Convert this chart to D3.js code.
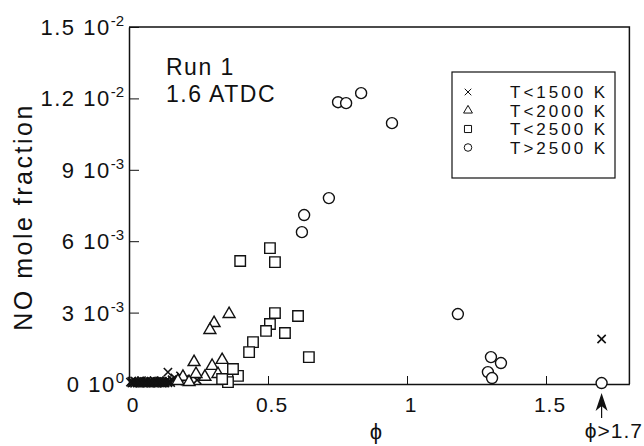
<!DOCTYPE html>
<html>
<head>
<meta charset="utf-8">
<script src="https://cdn.jsdelivr.net/npm/d3@7"></script>
<style>
  body { margin: 0; background: #fff; }
  text { font-family: "Liberation Sans", Arial, Helvetica, sans-serif; fill: #111; }
</style>
</head>
<body>
<div id="chart"></div>
<script>
// phi (equivalence ratio) and NO mole fraction, one pair of arrays per temperature class
var crossPhi = [0.005, 0.01, 0.015, 0.02, 0.025, 0.03, 0.035, 0.04, 0.045, 0.05, 0.055, 0.06, 0.065, 0.07,
    0.075, 0.08, 0.085, 0.09, 0.095, 0.10, 0.105, 0.11, 0.115, 0.12, 0.125, 0.13, 0.135, 0.14, 0.145,
    0.01, 0.02, 0.03, 0.04, 0.05, 0.06, 0.07, 0.08, 0.09, 0.10, 0.11, 0.12, 0.13, 0.14, 0.15,
    0.14, 0.155, 0.165, 0.175, 0.185, 0.2, 0.215, 0.245, 1.70];
var crossNO = [0.00008, 0.00012, 0.00006, 0.00013, 0.00009, 0.00005, 0.00012, 0.00008, 0.00014, 0.00006, 0.00011,
    0.00009, 0.00013, 0.00005, 0.00010, 0.00012, 0.00007, 0.00014, 0.00009, 0.00011, 0.00006, 0.00013, 0.00008,
    0.00012, 0.00005, 0.00010, 0.00014, 0.00008, 0.00011,
    0.00004, 0.00003, 0.00004, 0.00003, 0.00004, 0.00003, 0.00004, 0.00003, 0.00004, 0.00003, 0.00004, 0.00003,
    0.00004, 0.00005, 0.00006,
    0.0005, 0.00018, 0.00025, 0.00012, 0.00034, 0.00020, 0.00015, 0.00017, 0.00189];

var triPhi = [0.36, 0.306, 0.291, 0.234, 0.299, 0.335, 0.194, 0.273, 0.176, 0.241, 0.32, 0.216];
var triNO = [0.00294, 0.00256, 0.00227, 0.00092, 0.00076, 0.00101, 0.0003, 0.0003, 0.00013, 0.00042, 0.00042, 0.00008];

var sqPhi = [0.40, 0.507, 0.525, 0.525, 0.608, 0.507, 0.493, 0.561, 0.446, 0.432, 0.647, 0.392, 0.356, 0.374, 0.335];
var sqNO = [0.00517, 0.00571, 0.00512, 0.00298, 0.00286, 0.00252, 0.00223, 0.00214, 0.00176, 0.00134, 0.00113,
    0.00034, 0.00008, 0.00063, 0.00021];

var circPhi = [0.752, 0.781, 0.835, 0.946, 0.719, 0.63, 0.622, 1.183, 1.302, 1.338, 1.291, 1.306, 1.70];
var circNO = [0.01184, 0.0118, 0.01222, 0.01096, 0.00781, 0.0071, 0.00638, 0.00294, 0.00113, 0.00088, 0.0005, 0.00025, 0.00004];

var legendLabels = ["T<1500 K", "T<2000 K", "T<2500 K", "T>2500 K"];

var xTickVals = [0, 0.5, 1, 1.5];
var xTickLabels = ["0", "0.5", "1", "1.5"];
var yTickVals = [0, 0.003, 0.006, 0.009, 0.012, 0.015];
var yTickMant = ["0 10", "3 10", "6 10", "9 10", "1.2 10", "1.5 10"];
var yTickExp = ["0", "-3", "-3", "-3", "-2", "-2"];

var width = 644, height = 446;
var svg = d3.select("#chart").append("svg")
    .attr("width", width)
    .attr("height", height);

var x = d3.scaleLinear().domain([0, 1.8]).range([129, 629.4]);
var y = d3.scaleLinear().domain([0, 0.015]).range([384, 27]);

// frame (top and right)
svg.append("path")
    .attr("d", "M" + x(0) + "," + y(0.015) + "H" + x(1.8) + "V" + y(0))
    .attr("fill", "none").attr("stroke", "#111").attr("stroke-width", 1.5);

var xAxis = svg.append("g")
    .attr("transform", "translate(0," + y(0) + ")")
    .call(d3.axisBottom(x).tickValues(xTickVals.slice(1)).tickSize(-8).tickSizeOuter(0).tickFormat(""));
xAxis.select(".domain").attr("stroke", "#111").attr("stroke-width", 1.5);
xAxis.selectAll(".tick line").attr("stroke", "#111").attr("stroke-width", 1);

var yAxis = svg.append("g")
    .attr("transform", "translate(" + x(0) + ",0)")
    .call(d3.axisLeft(y).tickValues(yTickVals.slice(1)).tickSize(-10).tickSizeOuter(0).tickFormat(""));
yAxis.select(".domain").attr("stroke", "#111").attr("stroke-width", 1.5);
yAxis.selectAll(".tick line").attr("stroke", "#111").attr("stroke-width", 1);

// x tick labels
svg.selectAll(".xlab")
    .data(xTickVals)
    .enter().append("text")
    .attr("class", "xlab")
    .attr("x", function(d) { return x(d) + 4; })
    .attr("y", 412)
    .attr("text-anchor", "middle")
    .style("font-size", "21px")
    .style("letter-spacing", "1px")
    .text(function(d, i) { return xTickLabels[i]; });

// y tick labels with exponent
var ylab = svg.selectAll(".ylab")
    .data(yTickVals)
    .enter().append("text")
    .attr("class", "ylab")
    .attr("x", 124)
    .attr("y", function(d) { return y(d) + 8; })
    .attr("text-anchor", "end")
    .style("font-size", "22px")
    .style("letter-spacing", "1.5px");
ylab.append("tspan").text(function(d, i) { return yTickMant[i]; });
ylab.append("tspan")
    .attr("dy", -9)
    .style("font-size", "15px")
    .style("letter-spacing", "0px")
    .text(function(d, i) { return yTickExp[i]; });

// axis titles
svg.append("text")
    .attr("transform", "translate(32,217) rotate(-90)")
    .attr("text-anchor", "middle")
    .style("font-size", "25px")
    .style("letter-spacing", "2.5px")
    .text("NO mole fraction");

svg.append("text")
    .attr("x", 376).attr("y", 439)
    .attr("text-anchor", "middle")
    .style("font-size", "22px")
    .text("\u03D5");

svg.append("text")
    .attr("x", 643).attr("y", 438)
    .attr("text-anchor", "end")
    .style("font-size", "21px")
    .style("letter-spacing", "1px")
    .text("\u03D5>1.7");

// arrow pointing at phi>1.7 point
var ax = x(1.70);
svg.append("path")
    .attr("d", "M" + ax + ",393 L" + (ax + 6) + ",411 L" + ax + ",406 L" + (ax - 6) + ",411 Z")
    .attr("fill", "#111");
svg.append("line")
    .attr("x1", ax).attr("x2", ax).attr("y1", 405).attr("y2", 418)
    .attr("stroke", "#111").attr("stroke-width", 1.2);

// annotation
svg.append("text").attr("x", 166).attr("y", 75)
    .style("font-size", "23px").style("letter-spacing", "1.5px").text("Run 1");
svg.append("text").attr("x", 166).attr("y", 102)
    .style("font-size", "23px").style("letter-spacing", "1.5px").text("1.6 ATDC");

// markers
function drawSeries(phi, no, type, size, sw) {
    var pts = phi.map(function(p, i) { return [p, no[i]]; });
    svg.append("g").selectAll("path")
        .data(pts)
        .enter().append("path")
        .attr("transform", function(d) { return "translate(" + x(d[0]) + "," + y(d[1]) + ")"; })
        .attr("d", d3.symbol().type(type).size(size))
        .attr("fill", type === d3.symbolTimes ? "none" : "#fff")
        .attr("stroke", "#111")
        .attr("stroke-width", sw);
}
drawSeries(crossPhi, crossNO, d3.symbolTimes, 46, 1.6);
drawSeries(triPhi, triNO, d3.symbolTriangle, 62, 1.4);
drawSeries(sqPhi, sqNO, d3.symbolSquare, 110, 1.4);
drawSeries(circPhi, circNO, d3.symbolCircle, 95, 1.4);

// legend
var legend = svg.append("g");
legend.append("rect")
    .attr("x", 452).attr("y", 72).attr("width", 163).attr("height", 106)
    .attr("fill", "#fff").attr("stroke", "#111").attr("stroke-width", 1.2);
var legTypes = [d3.symbolTimes, d3.symbolTriangle, d3.symbolSquare, d3.symbolCircle];
var legSizes = [30, 34, 50, 45];
legend.selectAll(".legsym")
    .data(legendLabels)
    .enter().append("path")
    .attr("transform", function(d, i) { return "translate(468," + (92 + i * 18.5) + ")"; })
    .attr("d", function(d, i) { return d3.symbol().type(legTypes[i]).size(legSizes[i])(); })
    .attr("fill", "none")
    .attr("stroke", "#111")
    .attr("stroke-width", 1);
legend.selectAll(".legtxt")
    .data(legendLabels)
    .enter().append("text")
    .attr("x", 510)
    .attr("y", function(d, i) { return 98 + i * 18.5; })
    .style("font-size", "17px")
    .style("letter-spacing", "3px")
    .text(function(d) { return d; });
</script>
</body>
</html>
